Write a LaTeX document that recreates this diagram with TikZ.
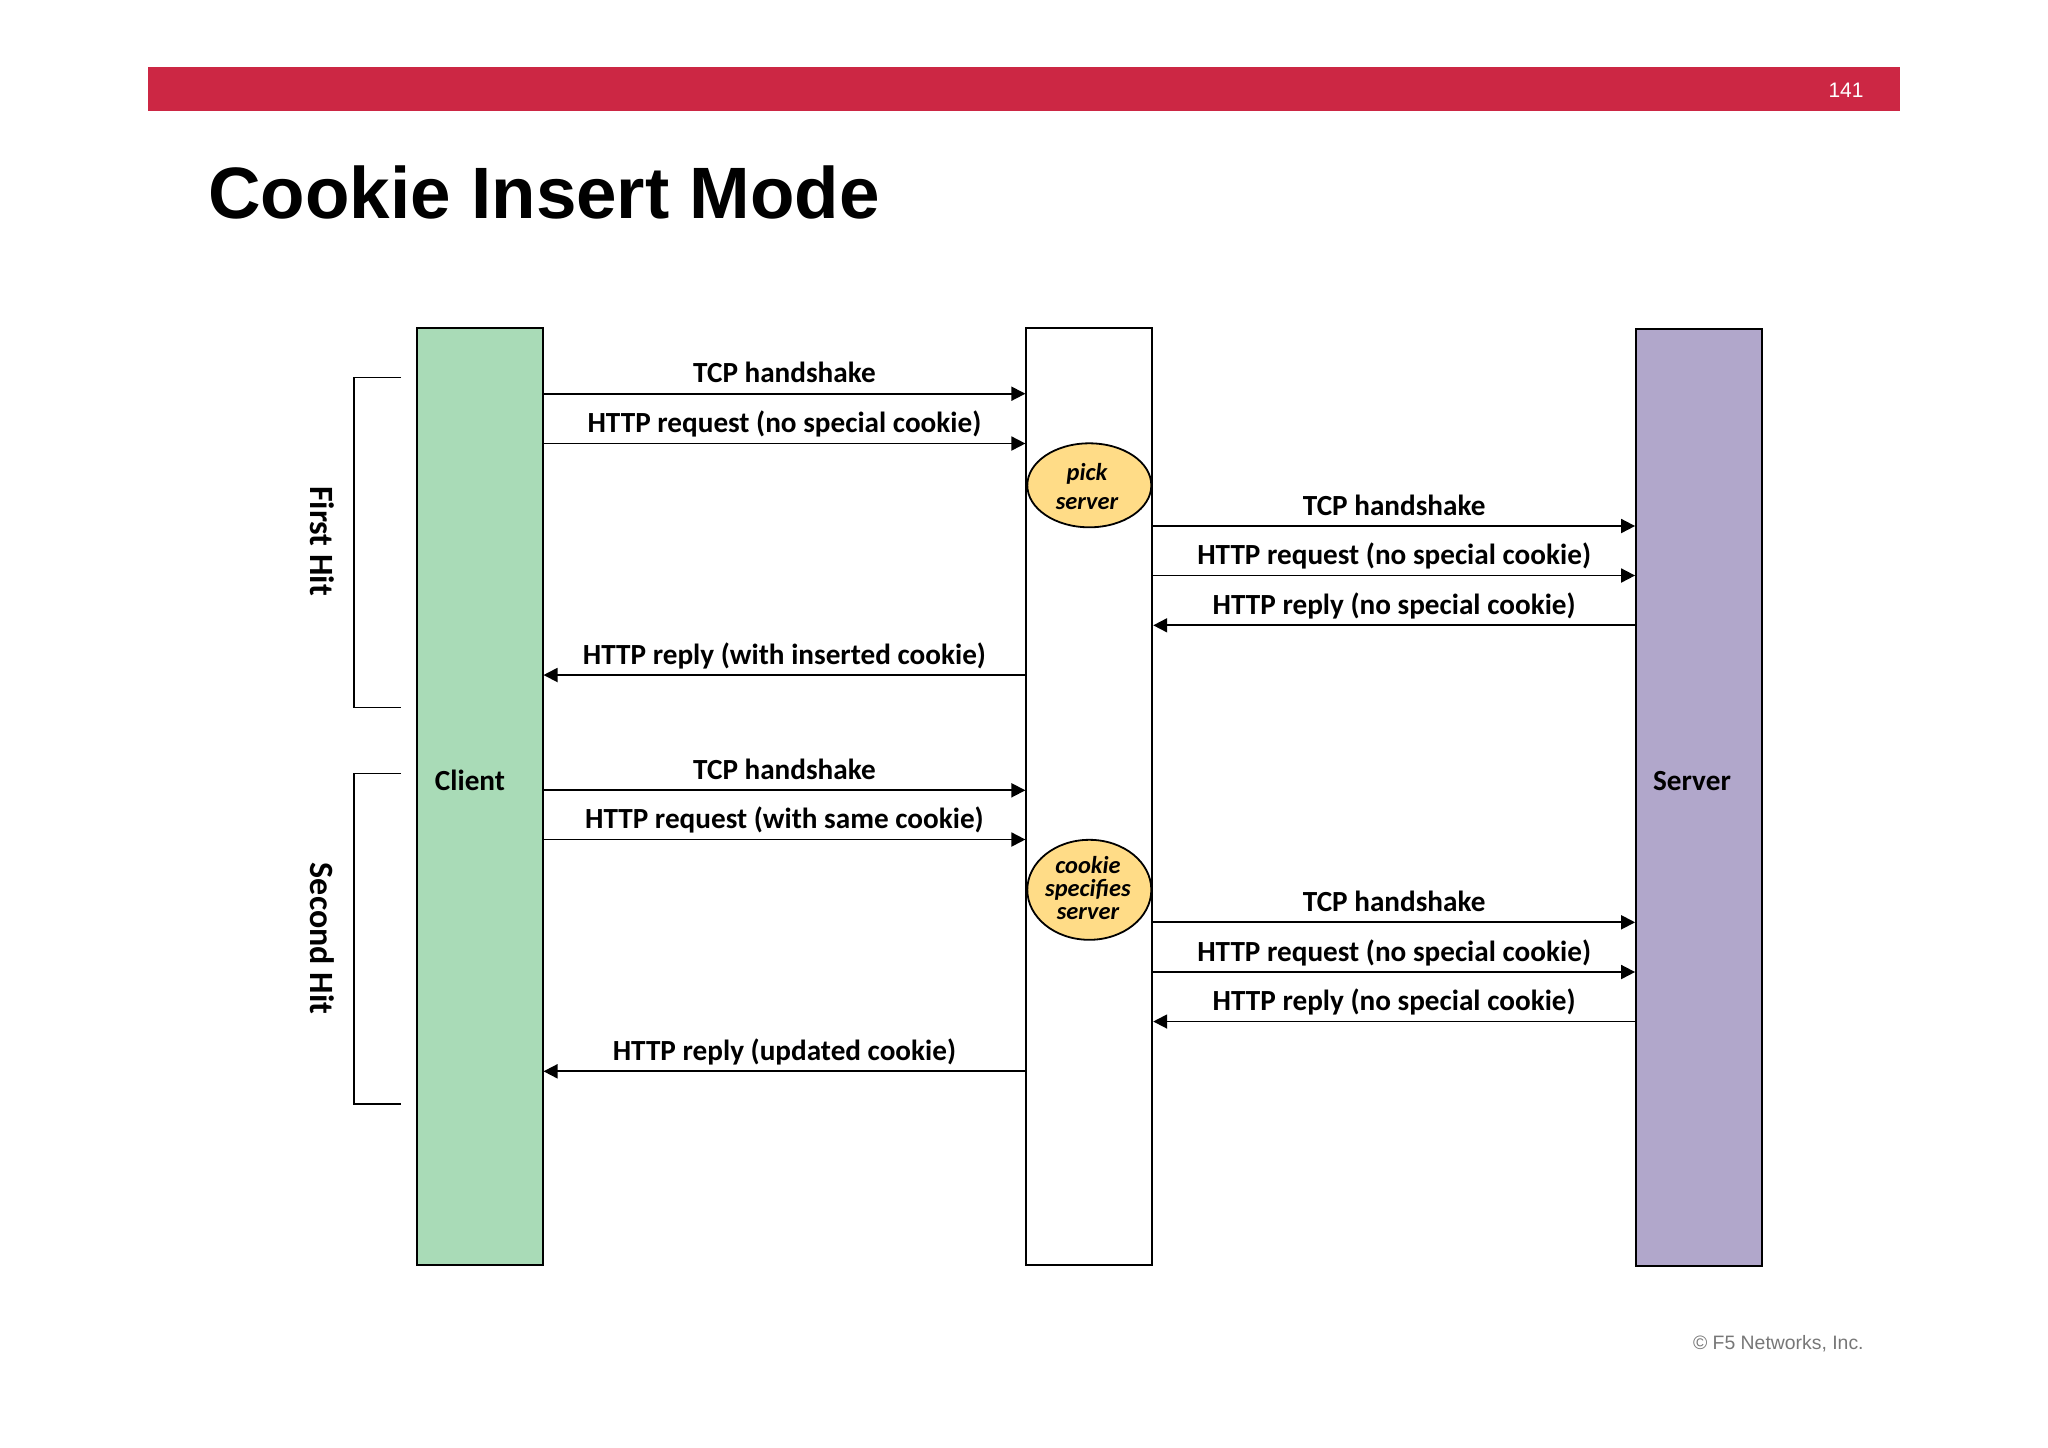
\documentclass[tikz,border=0pt]{standalone}
\usepackage{fontspec}
\usepackage{tikz}
\usetikzlibrary{arrows.meta,shapes.geometric}
\setmainfont{Carlito}
\newfontfamily\arialfont{Liberation Sans}
\definecolor{barred}{HTML}{CC2744}
\definecolor{clientgreen}{HTML}{A9DBB7}
\definecolor{servpurple}{HTML}{B1A7CB}
\definecolor{noteyellow}{HTML}{FFDC87}
\definecolor{footgray}{HTML}{777777}
\tikzset{
  column/.style={draw,line width=0.9pt,inner sep=0pt,minimum width=63pt,minimum height=468.5pt},
  msg/.style={line width=0.9pt,-{Triangle[length=7pt,width=7pt]}},
  lbl/.style={font=\bfseries\fontsize{14.6}{17}\selectfont,anchor=base,yshift=5.4pt,inner sep=0pt},
  side/.style={font=\bfseries\fontsize{14.6}{17}\selectfont,inner sep=0pt},
  hit/.style={font=\bfseries\fontsize{17}{19}\selectfont,inner sep=0pt,rotate=-90},
  note/.style={draw,ellipse,fill=noteyellow,line width=0.9pt,inner sep=0pt,minimum width=62pt},
  notetext/.style={align=center,inner sep=0pt,font=\bfseries\itshape\fontsize{12.2}{11.6}\selectfont},
  brace/.style={line width=0.8pt}
}
\begin{document}
\begin{tikzpicture}[x=0.5pt,y=-0.5pt]
\useasboundingbox (0,0) rectangle (2048,1447);

%% slide
\fill[barred] (148,66.6) rectangle (1900,110.6);
\node[font=\arialfont\fontsize{10.5}{12}\selectfont,text=white,inner sep=0pt] (pagenum) at (1846,90.5) {141};
\node[font=\arialfont\bfseries\fontsize{36.4}{40}\selectfont,anchor=base west,inner sep=0pt] (title) at (208,218.5) {Cookie Insert Mode};
\node[font=\arialfont\fontsize{9.7}{12}\selectfont,text=footgray,anchor=east,inner sep=0pt] (foot) at (1864,1343.5) {\textcopyright{} F5 Networks, Inc.};

%% columns
\node[column,fill=clientgreen] (client) at (479.6,796.3) {};
\node[column,fill=white] (lb) at (1089.3,796.3) {};
\node[column,fill=servpurple] (server) at (1699,797.8) {};
\node[side] (clientname) at (470,780) {Client};
\node[side] (servername) at (1692,781) {Server};

%% notes
\node[note,minimum height=42pt] (pick) at (1089.3,485.3) {};
\node[notetext] at (1087,486.7) (picktext) {pick\\[3.2pt]server};
\node[note,minimum height=50pt] (spec) at (1089.3,889.8) {};
\node[notetext] at (1088,888) (spectext) {cookie\\specifies\\server};

%% first hit
\draw[msg] (client.east |- 0,393.7) -- node[lbl] (m1) {TCP handshake} (lb.west |- 0,393.7);
\draw[msg] (client.east |- 0,443.5) -- node[lbl] (m2) {HTTP request (no special cookie)} (lb.west |- 0,443.5);
\draw[msg] (lb.east |- 0,526) -- node[lbl] (m3) {TCP handshake} (server.west |- 0,526);
\draw[msg] (lb.east |- 0,575.5) -- node[lbl] (m4) {HTTP request (no special cookie)} (server.west |- 0,575.5);
\draw[msg] (server.west |- 0,625.3) -- node[lbl] (m5) {HTTP reply (no special cookie)} (lb.east |- 0,625.3);
\draw[msg] (lb.west |- 0,675) -- node[lbl] (m6) {HTTP reply (with inserted cookie)} (client.east |- 0,675);

%% second hit
\draw[msg] (client.east |- 0,790.3) -- node[lbl] (n1) {TCP handshake} (lb.west |- 0,790.3);
\draw[msg] (client.east |- 0,839.5) -- node[lbl] (n2) {HTTP request (with same cookie)} (lb.west |- 0,839.5);
\draw[msg] (lb.east |- 0,922.3) -- node[lbl] (n3) {TCP handshake} (server.west |- 0,922.3);
\draw[msg] (lb.east |- 0,972) -- node[lbl] (n4) {HTTP request (no special cookie)} (server.west |- 0,972);
\draw[msg] (server.west |- 0,1021.5) -- node[lbl] (n5) {HTTP reply (no special cookie)} (lb.east |- 0,1021.5);
\draw[msg] (lb.west |- 0,1071.3) -- node[lbl] (n6) {HTTP reply (updated cookie)} (client.east |- 0,1071.3);

%% brackets
\coordinate (firsttop) at (401,377.5);
\coordinate (firstbot) at (401,707.5);
\coordinate (secondtop) at (401,773.5);
\coordinate (secondbot) at (401,1104);
\draw[brace] (firsttop) -- ++(-47,0) |- (firstbot);
\draw[brace] (secondtop) -- ++(-47,0) |- (secondbot);
\node[hit] (firsthit) at (322,541) {First Hit};
\node[hit] (secondhit) at (322,938.5) {Second Hit};

\end{tikzpicture}
\end{document}
